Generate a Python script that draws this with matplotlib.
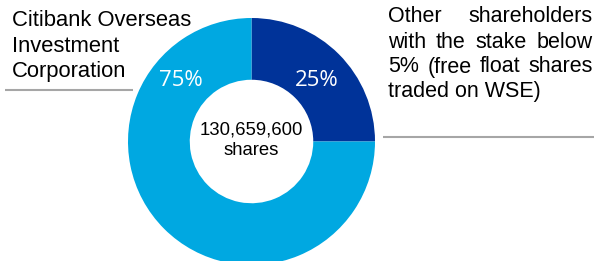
import matplotlib.pyplot as plt

# shareholder structure
holders = ['Other shareholders', 'Citibank Overseas Investment Corporation']
stakes = [25, 75]
pct_labels = ['25%', '75%']
total_shares = '130,659,600\nshares'
colors = ['#003399', '#00A8E1']

left_lines = ['Citibank Overseas', 'Investment', 'Corporation']
right_lines = [['Other', 'shareholders'],
               ['with', 'the', 'stake', 'below'],
               ['5%', '(free', 'float', 'shares'],
               ['traded on WSE)']]

W, H = 594, 261
fig = plt.figure(figsize=(W / 100, H / 100), dpi=100)
ax = fig.add_axes([0, 0, 1, 1])

cx, cy, R = 251.5, 141.5, 123.5
# y axis is inverted (pixel coords), so startangle 270 is the visual top
ax.pie(stakes, colors=colors, startangle=270, counterclock=True,
       radius=R, center=(cx, cy), wedgeprops=dict(width=R * 0.5, linewidth=0))

ax.set_xlim(0, W)
ax.set_ylim(H, 0)
ax.set_aspect('auto')
ax.axis('off')

# percentage labels
ax.text(317, 80, pct_labels[0], color='white', fontsize=16, family='Open Sans',
        ha='center', va='center')
ax.text(181, 80, pct_labels[1], color='white', fontsize=16, family='Open Sans',
        ha='center', va='center')

# centre text
ax.text(cx, 140.5, total_shares, fontsize=13.3, family='Liberation Sans',
        ha='center', va='center', linespacing=1.3)

# left annotation
for i, line in enumerate(left_lines):
    ax.text(12, 21 + i * 25.5, line, fontsize=15.8, family='Liberation Sans',
            ha='left', va='center')
ax.plot([5, 133], [90, 90], color='#A6A6A6', lw=1.5, solid_capstyle='butt')

# right annotation, justified
fig.canvas.draw()
rend = fig.canvas.get_renderer()
x0, x1 = 388, 593
for i, words in enumerate(right_lines):
    y = 17 + i * 25
    texts = [ax.text(x0, y, w, fontsize=15.5, family='Liberation Sans',
                     ha='left', va='center') for w in words]
    if len(words) > 1:
        widths = [t.get_window_extent(rend).width for t in texts]
        gap = (x1 - x0 - sum(widths)) / (len(words) - 1)
        x = x0
        for t, w in zip(texts, widths):
            t.set_x(x)
            x += w + gap
ax.plot([383, 594], [137, 137], color='#A6A6A6', lw=1.5, solid_capstyle='butt')

fig.savefig('out.png', dpi=100)
